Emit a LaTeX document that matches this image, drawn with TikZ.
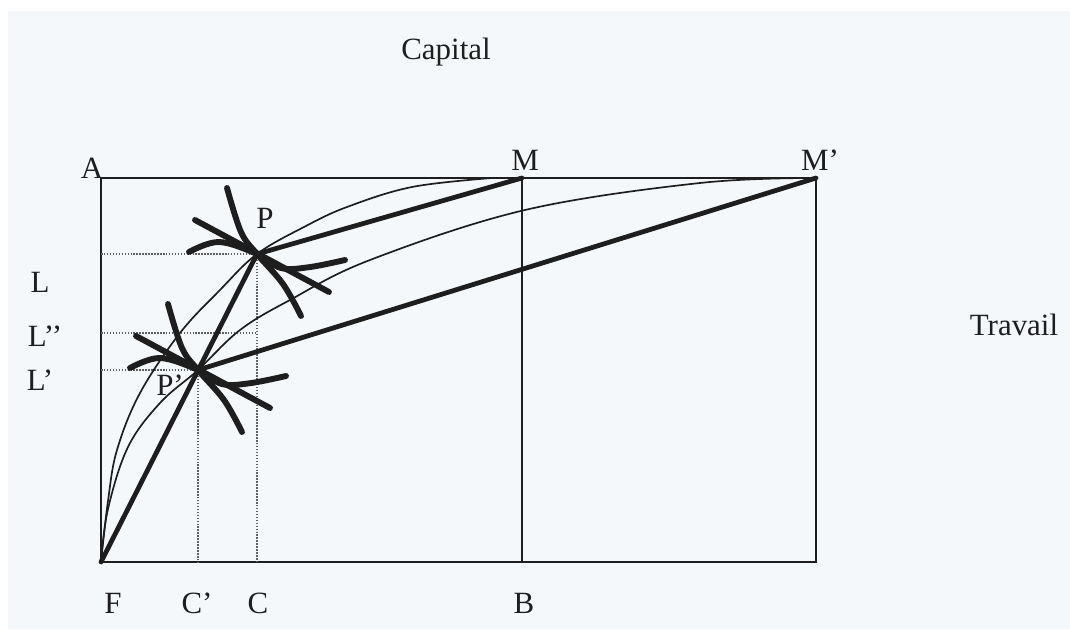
\documentclass[tikz,border=0pt]{standalone}
\usepackage{fontspec}
\setmainfont{Liberation Serif}
\definecolor{paper}{RGB}{245,248,251}
\definecolor{ink}{RGB}{30,30,30}
\tikzset{
    frame/.style={ink, line width=1.3pt},
    thin curve/.style={ink, line width=1.2pt},
    thick ray/.style={ink, line width=3.4pt, line cap=round},
    star line/.style={ink, line width=4.2pt, line cap=round},
    guide/.style={ink!70, line width=1.1pt, densely dotted},
    lab/.style={font=\fontsize{22}{26}\selectfont, ink}
}
\newcommand{\isoStar}[1]{%
    \draw[star line, shift={(#1)}] plot[smooth, tension=0.6] coordinates {(-0.75,1.65) (-0.4,0.55) (0,0) (0.65,-0.75) (1.1,-1.55)};
    \draw[star line, shift={(#1)}] (-1.55,0.85) -- (1.8,-0.95);
    \draw[star line, shift={(#1)}] plot[smooth, tension=0.6] coordinates {(-1.7,0.05) (-0.95,0.3) (0,0) (0.6,-0.35) (1.3,-0.33) (2.2,-0.15)};
}

\begin{document}
\begin{tikzpicture}
    \useasboundingbox (0,0) rectangle (26.75,15.725);
    \fill[paper] (0.2,0) rectangle (26.75,15.45);

    % corners of the box
    \coordinate (F) at (2.525,1.675);
    \coordinate (A) at (2.525,11.275);
    \coordinate (M) at (13.05,11.275);
    \coordinate (Mp) at (20.4,11.275);
    \coordinate (B) at (13.05,1.675);
    \coordinate (Bp) at (20.4,1.675);
    \coordinate (P) at (6.425,9.375);
    \coordinate (Pp) at (4.95,6.475);
    \coordinate (Lpp) at (2.525,7.4);
    \coordinate (Cpp) at (6.425,7.4);

    \draw[frame] (F) -- (A) -- (Mp) -- (Bp) -- cycle;
    \draw[frame] (M) -- (B);

    % dotted guides
    \draw[guide] (A |- P) -- (P);
    \draw[guide] (P) -- (P |- F);
    \draw[guide] (Lpp) -- (Cpp);
    \draw[guide] (A |- Pp) -- (Pp);
    \draw[guide] (Pp) -- (Pp |- F);

    % contract curves
    \draw[thin curve] plot[smooth, tension=0.6] coordinates {(2.525,1.675) (2.7,3.2) (2.925,4.475) (3.5,5.9) (4.5,7.4) (5.5,8.475) (6.425,9.375) (7.6,10.05) (8.675,10.55) (10.3,11.05) (12.3,11.275)};
    \draw[thin curve] plot[smooth, tension=0.6] coordinates {(2.525,1.675) (2.7,3.0) (3.2,4.55) (4.0,5.65) (4.95,6.475) (6.0,7.475) (7.25,8.225) (9.25,9.225) (13.125,10.475) (17.5,11.15) (20.4,11.275)};

    \draw[thick ray] (F) -- (P) -- (M);
    \draw[thick ray] (Pp) -- (Mp);

    \isoStar{P}
    \isoStar{Pp}

    \node[lab] (labCapital) at (11.15,14.425) {Capital};
    \node[lab] (labTravail) at (25.35,7.6) {Travail};
    \node[lab] (labA) at (2.3,11.525) {A};
    \node[lab] (labM) at (13.125,11.725) {M};
    \node[lab] (labMp) at (20.5,11.725) {M’};
    \node[lab] (labP) at (6.625,10.275) {P};
    \node[lab] (labPp) at (4.25,6.1) {P’};
    \node[lab] (labL) at (1.0,8.675) {L};
    \node[lab] (labLpp) at (1.125,7.325) {L’’};
    \node[lab] (labLp) at (1.0,6.225) {L’};
    \node[lab] (labF) at (2.825,0.65) {F};
    \node[lab] (labCp) at (4.925,0.65) {C’};
    \node[lab] (labC) at (6.45,0.65) {C};
    \node[lab] (labB) at (13.1,0.65) {B};
\end{tikzpicture}
\end{document}
